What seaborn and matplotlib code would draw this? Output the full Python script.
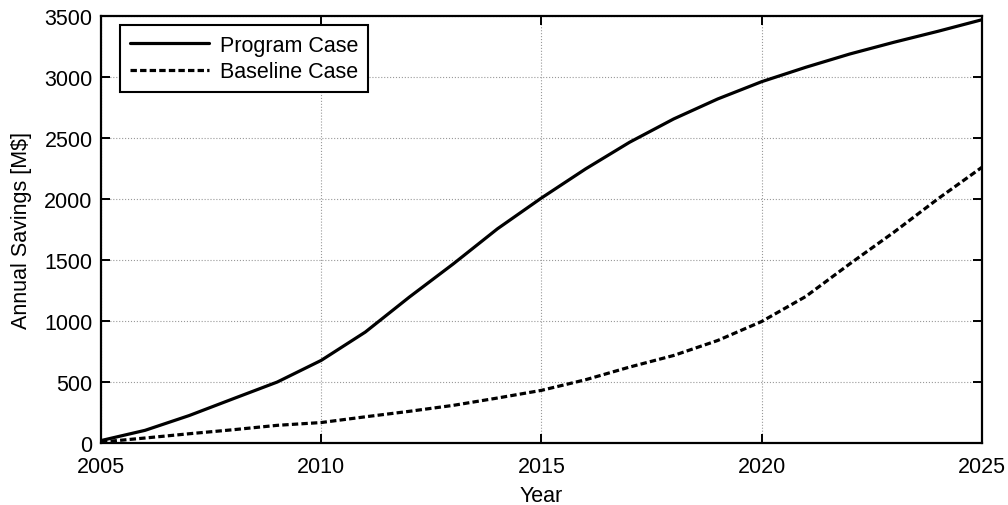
import matplotlib
matplotlib.use("Agg")
import matplotlib.pyplot as plt
import pandas as pd
import seaborn as sns

# values (M$ per year)
YEARS = list(range(2005, 2026))
PROGRAM_CASE = [20, 104, 225, 363, 500, 678, 910, 1197, 1470, 1757, 2010,
                2248, 2467, 2658, 2822, 2964, 3082, 3191, 3287, 3377, 3472]
BASELINE_CASE = [8, 41, 76, 109, 145, 168, 215, 260, 309, 369, 432,
                 519, 623, 718, 841, 997, 1202, 1470, 1729, 2003, 2262]
SERIES_NAMES = ["Program Case", "Baseline Case"]
X_TICKS = [2005, 2010, 2015, 2020, 2025]
Y_TICKS = [0, 500, 1000, 1500, 2000, 2500, 3000, 3500]


def build_frame() -> pd.DataFrame:
    frames = []
    for name, values in zip(SERIES_NAMES, [PROGRAM_CASE, BASELINE_CASE]):
        frames.append(pd.DataFrame({"Year": YEARS, "Savings": values, "Case": name}))
    return pd.concat(frames, ignore_index=True)


def main() -> None:
    sns.set_style("ticks")
    plt.rcParams["font.family"] = ["Liberation Sans", "DejaVu Sans"]
    plt.rcParams["text.color"] = "black"
    plt.rcParams["axes.labelcolor"] = "black"

    df = build_frame()

    fig = plt.figure(figsize=(10.08, 5.06), dpi=100)
    ax = fig.add_axes([0.1002, 0.1225, 0.8740, 0.8433])

    sns.lineplot(
        data=df,
        x="Year",
        y="Savings",
        style="Case",
        style_order=SERIES_NAMES,
        dashes={"Program Case": "", "Baseline Case": (2.0, 1.0)},
        color="black",
        linewidth=2.3,
        ax=ax,
    )

    ax.set_xlim(2005, 2025)
    ax.set_ylim(0, 3500)
    ax.set_xticks(X_TICKS)
    ax.set_yticks(Y_TICKS)
    ax.set_xticklabels([str(t) for t in X_TICKS])
    ax.grid(True, linestyle=":", color="#999999", linewidth=0.8)

    for spine in ax.spines.values():
        spine.set_visible(True)
        spine.set_color("black")
        spine.set_linewidth(1.6)

    ax.tick_params(axis="both", direction="in", length=6.5, width=1.4,
                   top=True, right=True, labelsize=15.5, colors="black")
    ax.tick_params(axis="x", pad=9)
    ax.tick_params(axis="y", pad=6)

    ax.set_xlabel("Year", fontsize=15.5, labelpad=6, color="black")
    ax.set_ylabel("Annual Savings [M$]", fontsize=15.5, labelpad=9, color="black")

    leg = ax.legend(
        loc="upper left",
        bbox_to_anchor=(0.0216, 0.979),
        borderaxespad=0,
        fontsize=15.5,
        frameon=True,
        fancybox=False,
        framealpha=1,
        edgecolor="black",
        handlelength=3.7,
        handletextpad=0.5,
        labelspacing=0.25,
        borderpad=0.45,
        title=None,
    )
    leg.get_frame().set_linewidth(1.5)
    for line in leg.get_lines():
        line.set_linewidth(2.3)
    for text in leg.get_texts():
        text.set_color("black")

    fig.savefig("out.png", dpi=100)


if __name__ == "__main__":
    main()
